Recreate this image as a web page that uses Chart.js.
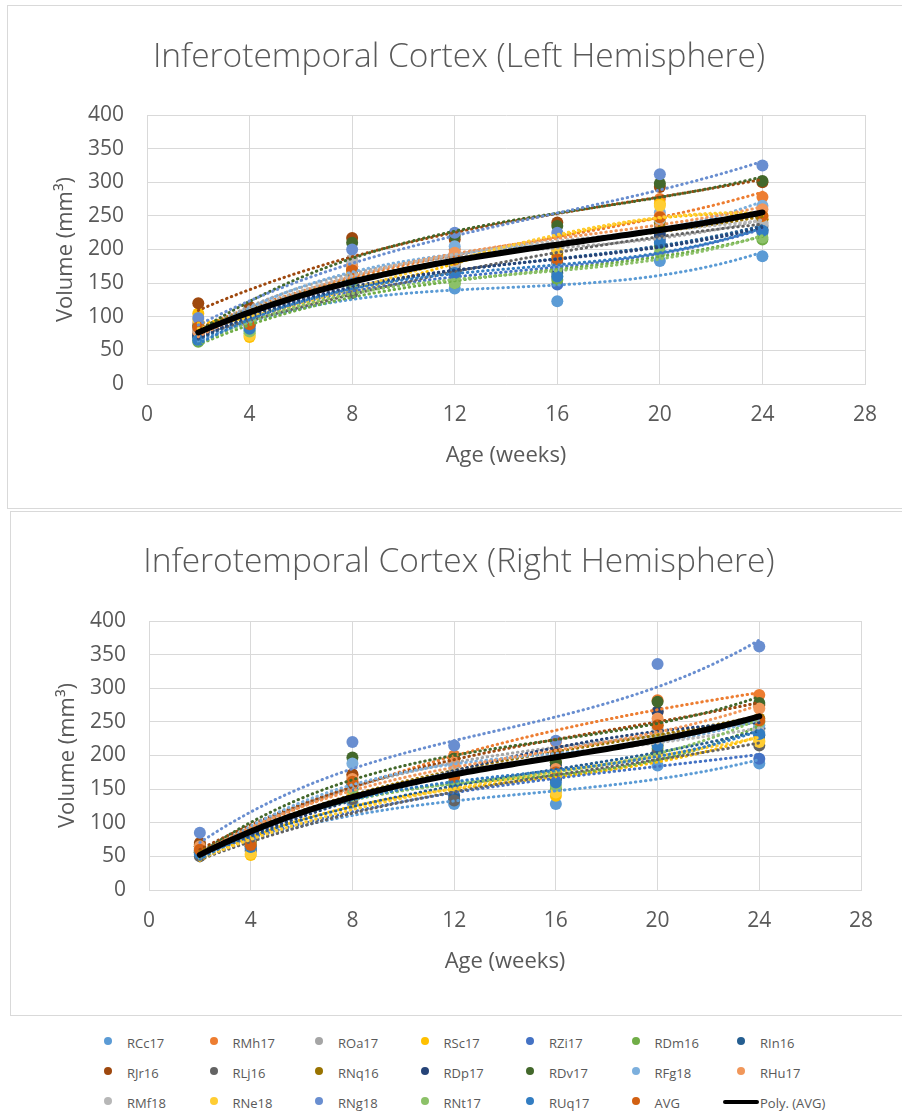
<!DOCTYPE html>
<html>
<head>
<meta charset="utf-8">
<script src="https://cdn.jsdelivr.net/npm/chart.js@4.4.1/dist/chart.umd.min.js"></script>
<style>
  html, body { margin: 0; padding: 0; background: #fff; width: 902px; height: 1114px; overflow: hidden; }
  .box { position: absolute; border: 1px solid #d9d9d9; background: #fff; }
  #boxLeft { left: 7px; top: 5px; width: 980px; height: 502px; }
  #boxRight { left: 10px; top: 511px; width: 980px; height: 503px; }
  canvas { position: absolute; left: 0; top: 0; }
  #legend { position: absolute; left: 0; top: 1030px; width: 902px; height: 84px;
            font-family: "Open Sans", sans-serif; font-size: 13px; color: #595959; }
  .item { position: absolute; height: 20px; line-height: 20px; white-space: nowrap; }
  .dot { position: absolute; width: 8px; height: 8px; border-radius: 50%; left: -4px; top: 4px; }
  .bar { position: absolute; width: 36px; height: 4px; left: -18px; top: 7px; background: #000; border-radius: 2px; }
  .item span { position: absolute; left: 19px; top: 0; }
</style>
</head>
<body>
<div class="box" id="boxLeft"><canvas id="leftChart" width="902" height="502"></canvas></div>
<div class="box" id="boxRight"><canvas id="rightChart" width="896" height="503"></canvas></div>
<div id="legend"></div>

<script>
// sampling ages (weeks)
const weeks = [2, 4, 8, 12, 16, 20, 24];

const seriesNames = [
  'RCc17', 'RMh17', 'ROa17', 'RSc17', 'RZi17', 'RDm16', 'RIn16',
  'RJr16', 'RLj16', 'RNq16', 'RDp17', 'RDv17', 'RFg18', 'RHu17',
  'RMf18', 'RNe18', 'RNg18', 'RNt17', 'RUq17', 'AVG'
];

const seriesColors = [
  '#5B9BD5', '#ED7D31', '#A5A5A5', '#FFC000', '#4472C4', '#70AD47', '#255E91',
  '#9E480E', '#636363', '#997300', '#264478', '#43682B', '#7CAFDD', '#F1975A',
  '#B7B7B7', '#FFCD33', '#698ED0', '#8CC168', '#327DC2', '#D26012'
];

// volumes (mm3), one row per animal, same order as seriesNames
const leftVolumes = [
  [68, 80, 140, 142, 123, 183, 190],
  [90, 95, 175, 200, 185, 275, 278],
  [88, 92, 185, 190, 180, 235, 240],
  [105, 70, 160, 185, 190, 268, 245],
  [72, 85, 150, 165, 148, 215, 225],
  [63, 75, 145, 150, 155, 205, 215],
  [70, 88, 155, 170, 165, 225, 230],
  [120, 115, 217, 215, 240, 293, 300],
  [75, 90, 135, 175, 180, 230, 235],
  [85, 100, 170, 180, 195, 240, 245],
  [72, 90, 160, 165, 170, 220, 228],
  [85, 105, 210, 220, 235, 298, 302],
  [80, 95, 180, 205, 175, 255, 265],
  [78, 90, 175, 195, 200, 250, 260],
  [82, 95, 185, 180, 200, 245, 238],
  [95, 72, 165, 185, 200, 265, 250],
  [98, 100, 200, 225, 225, 312, 325],
  [65, 78, 150, 150, 160, 195, 218],
  [65, 82, 155, 165, 160, 210, 228],
  [84, 89, 169, 185, 185, 248, 250]
];

const rightVolumes = [
  [52, 60, 130, 128, 128, 185, 188],
  [68, 72, 170, 200, 220, 282, 290],
  [62, 70, 165, 195, 200, 235, 250],
  [55, 52, 150, 150, 140, 215, 222],
  [58, 62, 140, 135, 148, 205, 195],
  [57, 65, 155, 160, 150, 210, 240],
  [56, 65, 150, 140, 165, 225, 230],
  [70, 75, 172, 195, 205, 265, 275],
  [50, 58, 135, 133, 165, 205, 215],
  [65, 72, 160, 175, 190, 245, 255],
  [58, 68, 158, 170, 185, 265, 240],
  [65, 72, 197, 195, 190, 280, 278],
  [60, 65, 188, 185, 170, 250, 245],
  [65, 70, 165, 190, 180, 255, 270],
  [58, 66, 160, 175, 175, 240, 235],
  [55, 54, 140, 155, 145, 225, 220],
  [85, 80, 220, 215, 222, 336, 362],
  [56, 68, 150, 160, 155, 220, 250],
  [54, 64, 155, 158, 160, 215, 232],
  [60, 67, 161, 168, 175, 245, 252]
];

const TREND_ORDER = 3;
const FONT = '"Open Sans", sans-serif';
const GREY = '#595959';
const GRID = '#d9d9d9';

// least squares polynomial fit, returns coefficients c0..cn
function polyFit(xs, ys, degree) {
  const n = degree + 1;
  const A = Array.from({ length: n }, () => new Array(n + 1).fill(0));
  for (let i = 0; i < xs.length; i++) {
    for (let r = 0; r < n; r++) {
      for (let c = 0; c < n; c++) A[r][c] += Math.pow(xs[i], r + c);
      A[r][n] += ys[i] * Math.pow(xs[i], r);
    }
  }
  for (let col = 0; col < n; col++) {
    let piv = col;
    for (let r = col + 1; r < n; r++) if (Math.abs(A[r][col]) > Math.abs(A[piv][col])) piv = r;
    [A[col], A[piv]] = [A[piv], A[col]];
    for (let r = 0; r < n; r++) {
      if (r === col) continue;
      const f = A[r][col] / A[col][col];
      for (let c = col; c <= n; c++) A[r][c] -= f * A[col][c];
    }
  }
  return A.map((row, i) => row[n] / row[i]);
}

function trendPoints(ys) {
  const coef = polyFit(weeks, ys, TREND_ORDER);
  const pts = [];
  const x0 = weeks[0], x1 = weeks[weeks.length - 1];
  for (let x = x0; x <= x1 + 1e-9; x += 0.25) {
    let y = 0;
    coef.forEach((c, k) => { y += c * Math.pow(x, k); });
    pts.push({ x: x, y: y });
  }
  return pts;
}

function buildDatasets(volumes) {
  const sets = [];
  const avgIdx = seriesNames.indexOf('AVG');
  volumes.forEach((vals, i) => {
    sets.push({
      label: seriesNames[i],
      data: weeks.map((w, k) => ({ x: w, y: vals[k] })),
      backgroundColor: seriesColors[i],
      borderColor: seriesColors[i],
      pointRadius: 6,
      pointBorderWidth: 0,
      showLine: false,
      order: 200 - i
    });
    if (i !== avgIdx) {
      sets.push({
        label: 'Poly. (' + seriesNames[i] + ')',
        data: trendPoints(vals),
        borderColor: seriesColors[i],
        borderWidth: 3,
        borderDash: [0.5, 4.6],
        borderCapStyle: 'round',
        pointRadius: 0,
        showLine: true,
        fill: false,
        order: 100 - i
      });
    }
  });
  sets.push({
    label: 'Poly. (AVG)',
    data: trendPoints(volumes[avgIdx]),
    borderColor: '#000000',
    borderWidth: 6,
    borderCapStyle: 'round',
    pointRadius: 0,
    showLine: true,
    fill: false,
    order: 0
  });
  return sets;
}

function makeChart(id, title, volumes, dims) {
  return new Chart(document.getElementById(id), {
    type: 'scatter',
    data: { datasets: buildDatasets(volumes) },
    options: {
      responsive: false,
      animation: false,
      layout: { padding: { left: dims.side, right: dims.side, top: 0, bottom: 0 } },
      plugins: {
        legend: { display: false },
        tooltip: { enabled: false },
        title: {
          display: true,
          text: title,
          color: GREY,
          font: { family: FONT, size: 33.5, weight: '300' },
          padding: { top: dims.titleTop, bottom: dims.titleBottom }
        }
      },
      scales: {
        x: {
          min: 0, max: 28,
          grid: { color: GRID, lineWidth: 1, drawTicks: false },
          border: { color: GRID, width: 1 },
          ticks: { stepSize: 4, color: GREY, padding: 18, font: { family: FONT, size: 21 } },
          title: {
            display: true, text: 'Age (weeks)', color: GREY,
            font: { family: FONT, size: 22 },
            padding: { top: 0, bottom: dims.xTitleBottom }
          },
          afterFit: (s) => { s.height = dims.xHeight; }
        },
        y: {
          min: 0, max: 400,
          grid: { color: GRID, lineWidth: 1, drawTicks: false },
          border: { color: GRID, width: 1 },
          ticks: { stepSize: 50, color: GREY, padding: 23, font: { family: FONT, size: 21 } },
          title: {
            display: true, text: 'Volume (mm³)', color: GREY,
            font: { family: FONT, size: 22 },
            padding: { top: dims.yTitleLeft, bottom: 0 }
          },
          afterFit: (s) => { s.width = dims.yWidth; }
        }
      }
    }
  });
}

makeChart('leftChart', 'Inferotemporal Cortex (Left Hemisphere)', leftVolumes, {
  side: 45, titleTop: 31, titleBottom: 37.8, xHeight: 124, xTitleBottom: 38.8,
  yWidth: 94, yTitleLeft: 0
});

makeChart('rightChart', 'Inferotemporal Cortex (Right Hemisphere)', rightVolumes, {
  side: 46, titleTop: 30, titleBottom: 38.8, xHeight: 125, xTitleBottom: 39.8,
  yWidth: 92, yTitleLeft: -2
});

// shared legend, 7 columns x 3 rows
const legend = document.getElementById('legend');
const legendItems = seriesNames.map((n, i) => ({ name: n, color: seriesColors[i] }));
legendItems.push({ name: 'Poly. (AVG)', line: true });
legendItems.forEach((it, i) => {
  const col = i % 7, row = Math.floor(i / 7);
  const el = document.createElement('div');
  el.className = 'item';
  el.style.left = (108 + col * 105.5) + 'px';
  el.style.top = (3 + row * 30) + 'px';
  const mark = document.createElement('div');
  if (it.line) {
    mark.className = 'bar';
  } else {
    mark.className = 'dot';
    mark.style.background = it.color;
  }
  const txt = document.createElement('span');
  txt.textContent = it.name;
  el.appendChild(mark);
  el.appendChild(txt);
  legend.appendChild(el);
});
</script>
</body>
</html>
